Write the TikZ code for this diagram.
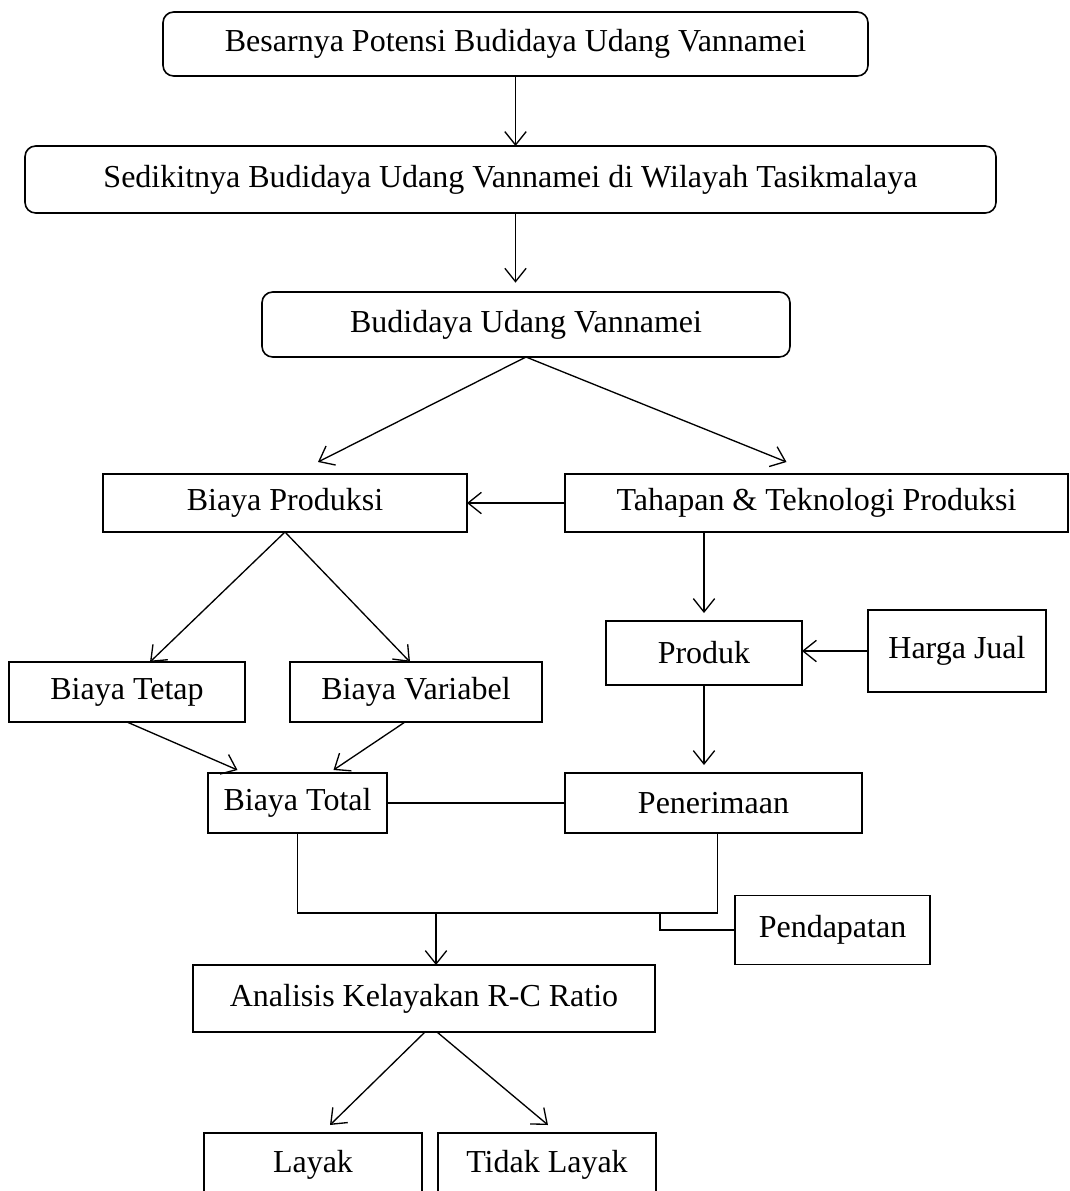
\documentclass[tikz,border=0pt]{standalone}
\usepackage{fontspec}
\setmainfont{Liberation Serif}
\usetikzlibrary{arrows.meta, calc}

\begin{document}
\begin{tikzpicture}[x=0.375pt, y=-0.375pt,
    kotak/.style={rectangle, draw, line width=0.6pt,
                  inner sep=0pt, outer sep=0pt,
                  font=\fontsize{12}{14}\selectfont,
                  anchor=center},
    ukuran/.style 2 args={minimum width=#1*0.375pt, minimum height=#2*0.375pt},
    bulat/.style={kotak, rounded corners=4pt},
    garis/.style={line width=0.5pt},
    panah/.style={garis, -{Straight Barb[length=5pt, width=8pt]}}
    ]
\useasboundingbox (0,0) rectangle (1070,1191);
\clip (0,0) rectangle (1070,1191);

\node[bulat, ukuran={705}{64}] (potensi) at (515.5,44) {Besarnya Potensi Budidaya Udang Vannamei};
\node[bulat, ukuran={971}{67}] (sedikit) at (510.5,179.5) {Sedikitnya Budidaya Udang Vannamei di Wilayah Tasikmalaya};
\node[bulat, ukuran={528}{65}] (budidaya) at (526,324.5) {Budidaya Udang Vannamei};
%%%
\node[kotak, ukuran={364}{58}] (biayaprod) at (285,503) {Biaya Produksi};
\node[kotak, ukuran={503}{58}] (tahapan) at (816.5,503) {Tahapan \& Teknologi Produksi};
\node[kotak, ukuran={236}{60}] (tetap) at (127,692) {Biaya Tetap};
\node[kotak, ukuran={252}{60}] (variabel) at (416,692) {Biaya Variabel};
\node[kotak, ukuran={196}{64}] (produk) at (704,653) {Produk};
\node[kotak, ukuran={178}{82}] (harga) at (957,651) {Harga Jual};
%%%
\node[kotak, line width=0.9pt, ukuran={179}{60}] (total) at (297.5,803) {Biaya Total};
\node[kotak, ukuran={297}{60}] (penerimaan) at (713.5,803) {Penerimaan};
\node[kotak, ukuran={195}{69}] (pendapatan) at (832.5,930) {Pendapatan};
\node[kotak, ukuran={462}{67}] (analisis) at (424,998.5) {Analisis Kelayakan R-C Ratio};
\node[kotak, ukuran={218}{64}] (layak) at (313,1165) {Layak};
\node[kotak, ukuran={218}{64}] (tidak) at (547,1165) {Tidak Layak};

% alur atas
\draw[panah] (potensi.south) -- (potensi.south |- sedikit.north);
\draw[panah, shorten >=3.5pt] (sedikit.south -| potensi.south) -- (potensi.south |- budidaya.north);
\draw[panah] (budidaya.south) -- ($(biayaprod.north)+(33,-12)$);
\draw[panah] (budidaya.south) -- ($(tahapan.north)+(-30,-12)$);
\draw[panah] (tahapan.west) -- (biayaprod.east);
% biaya
\draw[panah] (biayaprod.south) -- ($(tetap.north)+(23,0)$);
\draw[panah] (biayaprod.south) -- ($(variabel.north)+(-6,0)$);
\draw[panah] (tetap.south) -- ($(total.north)+(-60,-3)$);
\draw[panah] ($(variabel.south)+(-11,0)$) -- ($(total.north)+(36,-3)$);
% produk
\draw[panah, shorten >=3pt] (produk.north |- tahapan.south) -- (produk.north);
\draw[panah] (harga.west) -- (harga.west -| produk.east);
\draw[panah, shorten >=3pt] (produk.south) -- (produk.south |- penerimaan.north);
% gabungan
\draw[garis] (total.east) -- (penerimaan.west);
\draw[garis] (total.south) -- ++(0,80) coordinate (gabung) -| ($(penerimaan.south)+(4,0)$);
\draw[garis] (pendapatan.west) -- ++(-75,0) |- (gabung);
\draw[panah] ($(analisis.north |- gabung)+(12,0)$) -- ($(analisis.north)+(12,0)$);
% kelayakan
\draw[panah] ($(analisis.south)+(1,0)$) -- ($(layak.north)+(17,-8)$);
\draw[panah] ($(analisis.south)+(13,0)$) -- ($(tidak.north)+(1,-8)$);
\end{tikzpicture}
\end{document}
